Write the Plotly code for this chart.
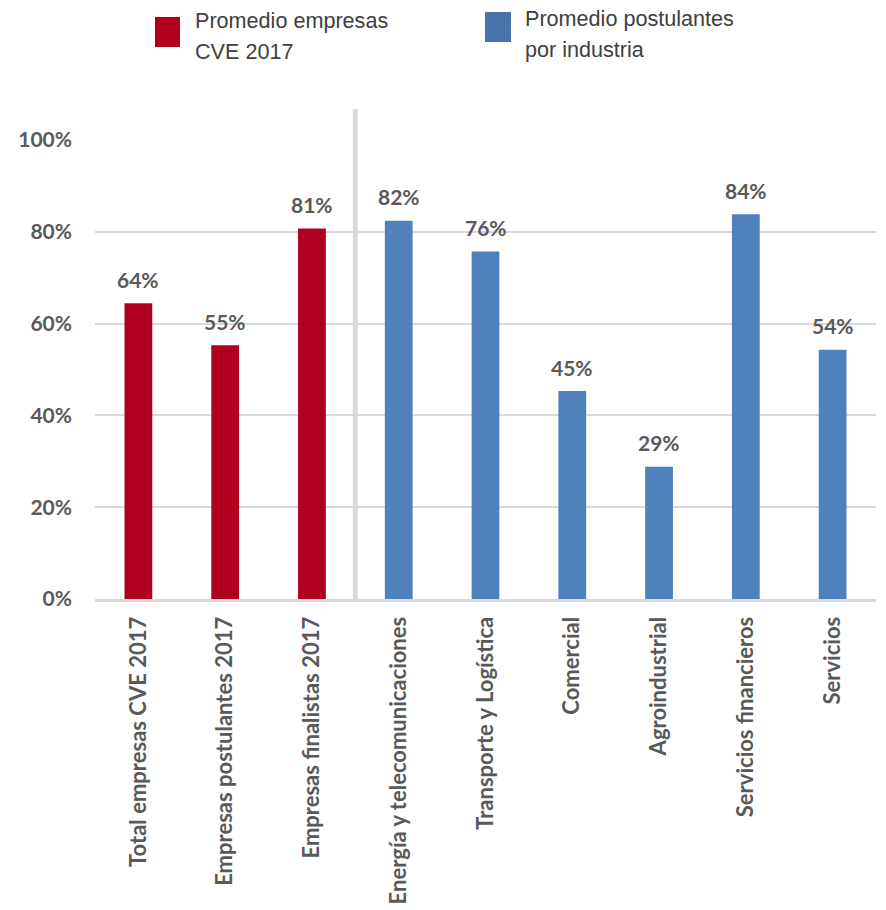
import plotly.graph_objects as go

# Share of companies, by group
categories = [
    "Total empresas CVE 2017",
    "Empresas postulantes 2017",
    "Empresas finalistas 2017",
    "Energía y telecomunicaciones",
    "Transporte y Logística",
    "Comercial",
    "Agroindustrial",
    "Servicios financieros",
    "Servicios",
]
values = [0.644, 0.553, 0.807, 0.824, 0.757, 0.453, 0.288, 0.838, 0.543]
groups = ["cve", "cve", "cve", "ind", "ind", "ind", "ind", "ind", "ind"]

legend_lines = {
    "cve": ["Promedio empresas", "CVE 2017"],
    "ind": ["Promedio postulantes", "por industria"],
}
y_ticks = [0, 0.2, 0.4, 0.6, 0.8, 1.0]

RED = "#AF0020"
BLUE = "#4F81BD"
GREY_TXT = "#595959"
GRID = "#D9D9D9"
color_for = {"cve": RED, "ind": BLUE}

W, H = 886, 910
ML, MR, MT, MB = 95, 10, 139, 311
PH = H - MT - MB
PW = W - ML - MR


def px_to_paper_y(py):
    return (H - MB - py) / PH


def px_to_paper_x(px):
    return (px - ML) / PW


fig = go.Figure()
fig.add_trace(go.Bar(
    x=categories,
    y=values,
    marker=dict(color=[color_for[g] for g in groups], line=dict(width=0)),
    showlegend=False,
    hoverinfo="skip",
))

FAMILY = "Lato, 'Open Sans', sans-serif"
bold = dict(family=FAMILY, size=21, color=GREY_TXT, weight="bold")
bold_x = dict(family=FAMILY, size=22, color=GREY_TXT, weight="bold")

# value labels above each bar
annotations = []
for c, v in zip(categories, values):
    annotations.append(dict(
        x=c, y=v, xref="x", yref="y",
        text=f"{round(v * 100):.0f}%",
        showarrow=False, yanchor="middle", yshift=24,
        font=bold,
    ))

# legend drawn as squares and two-line captions
shapes = []
legend_layout = {
    "cve": dict(sq=(155, 17, 180, 47), tx=193, ys=(20, 51)),
    "ind": dict(sq=(485, 12, 511, 42), tx=523, ys=(18, 49)),
}
legend_sq_colors = {"cve": "#B0001E", "ind": "#4A73A9"}
for key, spec in legend_layout.items():
    x0, y0, x1, y1 = spec["sq"]
    shapes.append(dict(
        type="rect", xref="paper", yref="paper",
        x0=px_to_paper_x(x0), x1=px_to_paper_x(x1),
        y0=px_to_paper_y(y1), y1=px_to_paper_y(y0),
        fillcolor=legend_sq_colors[key], line=dict(width=0), layer="above",
    ))
    for line, ly in zip(legend_lines[key], spec["ys"]):
        annotations.append(dict(
            x=px_to_paper_x(spec["tx"]), y=px_to_paper_y(ly),
            xref="paper", yref="paper", xanchor="left", yanchor="middle",
            text=line, showarrow=False,
            font=dict(family="'Liberation Sans', Arial, sans-serif", size=21.6, color="#404040"),
        ))

# vertical divider between company totals and industries
shapes.append(dict(
    type="line", xref="x", yref="paper",
    x0=2.5, x1=2.5, y0=px_to_paper_y(601), y1=px_to_paper_y(109),
    line=dict(color=GRID, width=5), layer="above",
))

fig.update_layout(
    width=W, height=H,
    margin=dict(l=ML, r=MR, t=MT, b=MB, autoexpand=False),
    paper_bgcolor="white", plot_bgcolor="white",
    bargap=0.68,
    annotations=annotations,
    shapes=shapes,
    xaxis=dict(
        tickangle=-90,
        tickfont=bold_x,
        showline=True, linecolor=GRID, linewidth=3,
        showgrid=False, ticks="",
        ticklabelstandoff=6,
        automargin=False,
    ),
    yaxis=dict(
        range=[0, 1.002],
        tickvals=y_ticks,
        tickformat=".0%",
        tickfont=bold,
        showgrid=True, gridcolor=GRID, gridwidth=1.5,
        zeroline=False, showline=False, ticks="",
        ticklabelstandoff=22,
        automargin=False,
    ),
)

fig.write_html("out.html")
